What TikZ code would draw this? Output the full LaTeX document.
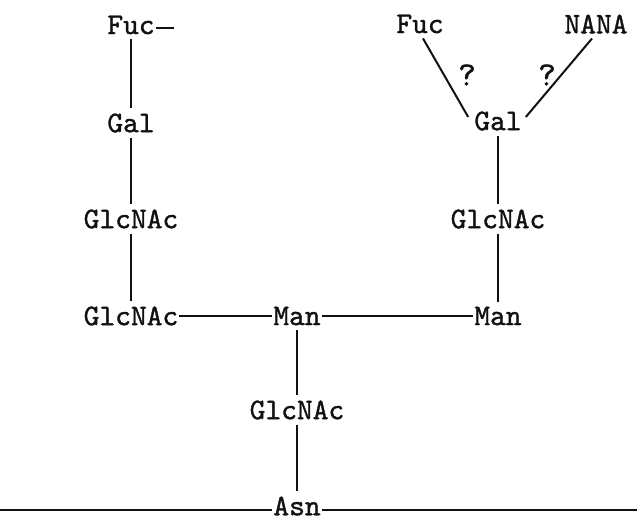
\documentclass[tikz,border=0pt]{standalone}
\usepackage{fontspec}
\usepackage{xcolor}
\usetikzlibrary{positioning}
\newfontfamily\typer{lmmono10-regular.otf}[FakeBold=1.2]
\definecolor{ink}{HTML}{111111}
\tikzset{
  sugar/.style={font=\typer\fontsize{30}{32}\selectfont, text=ink, inner xsep=1pt, inner ysep=5pt},
  query/.style={font=\typer\fontsize{34}{36}\selectfont, text=ink, inner sep=1pt},
  bond/.style={draw=ink, line width=1.1pt},
  heavybond/.style={draw=ink, line width=2pt},
  chain/.style={draw=ink, line width=1.5pt}
}

\begin{document}
\begin{tikzpicture}[x=1pt,y=1pt]
\useasboundingbox (0,0) rectangle (637,521);

% left antenna
\node[sugar] (fucL) at (131,496) {Fuc};
\node[sugar] (galL) at (131,398) {Gal};
\node[sugar] (glcL) at (131,302) {GlcNAc};
\node[sugar] (glcB) at (131,205) {GlcNAc};

% core
\node[sugar] (manM) at (297,205) {Man};
\node[sugar] (manR) at (498,205) {Man};
\node[sugar] (glcM) at (297,111) {GlcNAc};
\node[sugar] (asn) at (297,15) {Asn};

% right antenna
\node[sugar] (glcR) at (498,302) {GlcNAc};
\node[sugar] (galR) at (498,400) {Gal};
\node[sugar] (fucR) at (420,497) {Fuc};
\node[sugar] (nana) at (596,497) {NANA};
\node[query] (q1) at (467,446) {?};
\node[query] (q2) at (547,446) {?};

\coordinate (fucend) at (174,493);
\coordinate (chainL) at (0,11);
\coordinate (chainR) at (637,11);

\draw[bond] (fucL.east |- fucend) -- (fucend);
\draw[bond] (fucL.south) -- (galL.north);
\draw[bond] (galL.south) -- (glcL.north);
\draw[bond] (glcL.south) -- (glcB.north);
\draw[bond] (glcB.east) -- (manM.west);
\draw[bond] (manM.east) -- (manR.west);
\draw[bond] (manR.north) -- (glcR.south);
\draw[bond] (glcR.north) -- (galR.south);
\draw[heavybond] ([xshift=3pt]fucR.south) -- ([xshift=-5pt,yshift=4pt]galR.west);
\draw[heavybond] ([xshift=-4pt]nana.south) -- ([xshift=3pt,yshift=4pt]galR.east);
\draw[bond] (manM.south) -- (glcM.north);
\draw[bond] (glcM.south) -- (asn.north);
\draw[chain] (chainL) -- (asn.west |- chainL);
\draw[chain] (asn.east |- chainR) -- (chainR);

\end{tikzpicture}
\end{document}
